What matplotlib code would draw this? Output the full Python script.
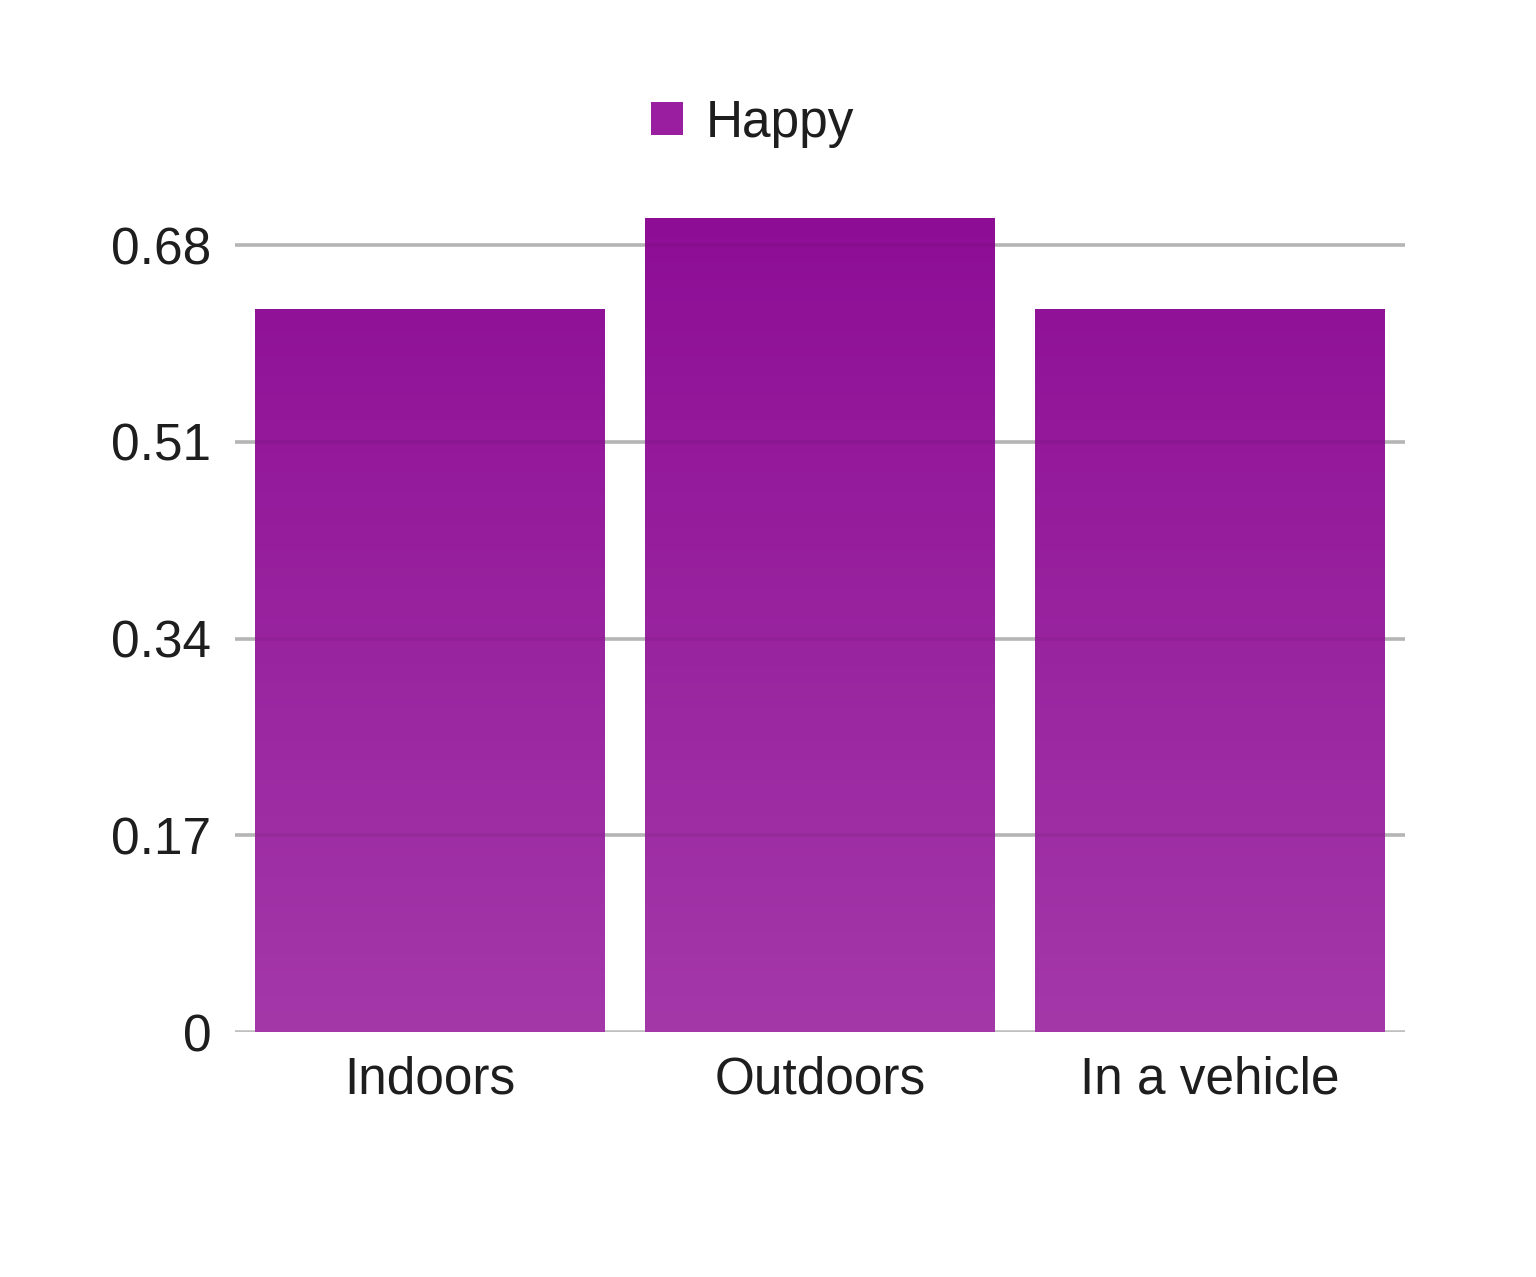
import matplotlib
matplotlib.use("Agg")
import matplotlib.pyplot as plt
import numpy as np
from matplotlib.patches import Patch
from matplotlib.colors import LinearSegmentedColormap

categories = ["Indoors", "Outdoors", "In a vehicle"]
happy = [0.625, 0.703, 0.625]
yticks = [0, 0.17, 0.34, 0.51, 0.68]
ytick_labels = ["0", "0.17", "0.34", "0.51", "0.68"]
series_name = "Happy"

plt.rcParams['font.family'] = ['Liberation Sans', 'DejaVu Sans']

W, H = 1536, 1277
fig = plt.figure(figsize=(W / 100, H / 100), dpi=100)
ax_left, ax_right = 235 / W, 1405 / W
ax_bottom = (H - 1032) / H
ax_top = (H - 164) / H
ax = fig.add_axes([ax_left, ax_bottom, ax_right - ax_left, ax_top - ax_bottom])

ymax = 0.75
ax.set_xlim(-0.5, len(categories) - 0.5)
ax.set_ylim(0, ymax)

top_col = "#8C0B94"
bot_col = "#A438A9"
cmap = LinearSegmentedColormap.from_list("g", [bot_col, top_col])

# gridlines underneath
for t in yticks:
    ax.axhline(t, color="#BFBFBF", lw=2.6, zorder=1)

x = np.arange(len(categories))
bw = 0.895
bars = ax.bar(x, happy, width=bw, color="none", edgecolor="none", zorder=2)
grad = np.linspace(0, 1, 256).reshape(-1, 1)
for b, v in zip(bars, happy):
    x0 = b.get_x()
    im = ax.imshow(grad, extent=[x0, x0 + b.get_width(), 0, ymax], origin="lower",
                   cmap=cmap, aspect="auto", zorder=2, vmin=0, vmax=1)
    im.set_clip_path(b)

# faint gridline traces visible through bars
for t in yticks[1:]:
    ax.axhline(t, color="#000000", lw=2.6, alpha=0.05, zorder=3)

ax.set_xlim(-0.5, len(categories) - 0.5)
ax.set_ylim(0, ymax)

for s in ax.spines.values():
    s.set_visible(False)
ax.set_yticks(yticks)
ax.set_yticklabels(ytick_labels)
ax.set_xticks(x)
ax.set_xticklabels(categories)
ax.tick_params(axis="y", length=0, pad=17, labelsize=37, labelcolor="#1E1E1E")
ax.tick_params(axis="x", length=0, pad=17, labelsize=37, labelcolor="#1E1E1E")

handle = Patch(facecolor="#9A1FA0", edgecolor="none")
fig.legend([handle], [series_name], loc="center",
           bbox_to_anchor=(753 / W, 1 - 123 / H), frameon=False,
           fontsize=37, handlelength=0.62, handleheight=0.62,
           handletextpad=0.45, labelcolor="#1E1E1E")

fig.savefig("out.png", dpi=100, facecolor="white")
